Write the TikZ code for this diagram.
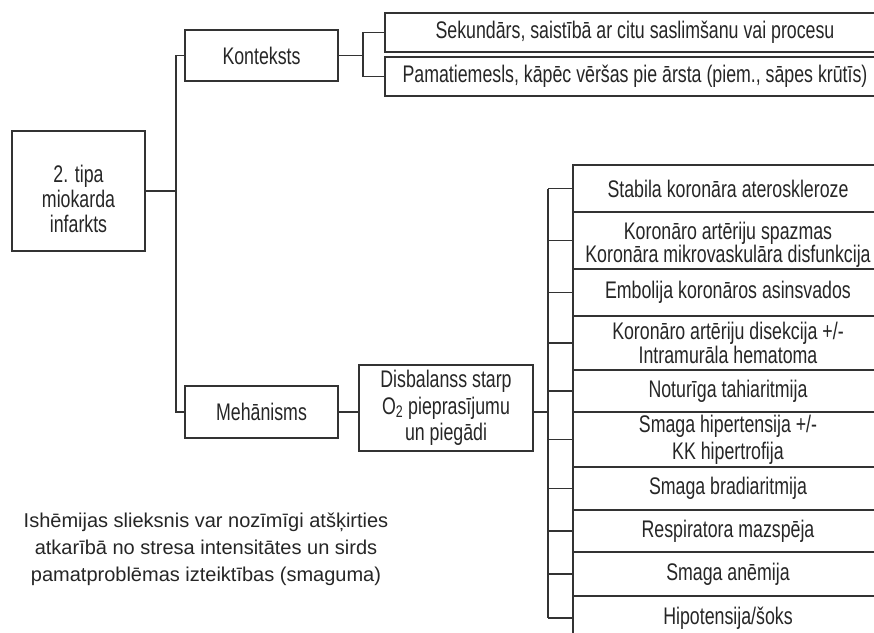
\documentclass[tikz,border=0pt]{standalone}
\usepackage{fontspec}
\setmainfont{Liberation Sans}
\newfontfamily\condfont[FakeStretch=0.74]{Liberation Sans}
\definecolor{linec}{HTML}{333333}
\definecolor{txt}{HTML}{262626}
\begin{document}
\begin{tikzpicture}[x=1pt,y=-1pt,
  box/.style={draw=linec, line width=1.25pt, inner sep=0pt, align=center, text=txt,
    font=\condfont\fontsize{24}{23}\selectfont},
  lead/.style={font=\condfont\fontsize{24}{#1}\selectfont},
  btext/.style={align=center, text=txt, inner sep=0pt, font=\condfont\fontsize{24}{#1}\selectfont},
  conn/.style={draw=linec, line width=1.25pt}]
\useasboundingbox (0,0) rectangle (874,632);
\clip (0,0) rectangle (874,632);
\fill[white] (0,0) rectangle (874,632);
% main tree
\node[box, minimum width=133pt, minimum height=120pt,
  label={[btext=25, yshift=-8pt]center:{2. tipa\\miokarda\\infarkts}}] (main) at (78.5,191) {};
\node[box, minimum width=153pt, minimum height=51pt] (kont) at (261.5,55.5) {Konteksts};
\node[box, minimum width=153pt, minimum height=52pt] (mech) at (261.5,412) {Mehānisms};
\node[box, minimum width=500pt, minimum height=39pt] (sek) at (635,32.5) {Sekundārs, saistībā ar citu saslimšanu vai procesu};
\node[box, minimum width=500pt, minimum height=39pt] (pam) at (635,76.5) {Pamatiemesls, kāpēc vēršas pie ārsta (piem., sāpes krūtīs)};
\node[box, lead=26.5, minimum width=174pt, minimum height=86pt] (dis) at (446,408) {Disbalanss starp\\O\textsubscript{2} pieprasījumu\\un piegādi};
% list
\node[box, minimum width=310pt, minimum height=47pt] (l1) at (728,188.5) {Stabila koronāra ateroskleroze};
\node[box, minimum width=310pt, minimum height=57pt,
  label={[btext=22, yshift=-4.5pt]center:{Koronāro artēriju spazmas\\Koronāra mikrovaskulāra disfunkcija}}] (l2) at (728,240.5) {};
\node[box, minimum width=310pt, minimum height=47pt] (l3) at (728,292.5) {Embolija koronāros asinsvados};
\node[box, lead=23.5, minimum width=310pt, minimum height=54pt] (l4) at (728,343) {Koronāro artēriju disekcija +/-\\Intramurāla hematoma};
\node[box, minimum width=310pt, minimum height=42pt] (l5) at (728,391) {Noturīga tahiaritmija};
\node[box, lead=27, minimum width=310pt, minimum height=55pt] (l6) at (728,439.5) {Smaga hipertensija +/-\\KK hipertrofija};
\node[box, minimum width=310pt, minimum height=43pt] (l7) at (728,488.5) {Smaga bradiaritmija};
\node[box, minimum width=310pt, minimum height=42pt] (l8) at (728,531) {Respiratora mazspēja};
\node[box, minimum width=310pt, minimum height=44pt] (l9) at (728,574) {Smaga anēmija};
\node[box, minimum width=310pt, minimum height=44pt] (l10) at (728,618) {Hipotensija/šoks};
% connectors
\coordinate (v1) at (176,0);
\coordinate (v2) at (363,0);
\coordinate (v3) at (548,0);
\draw[conn] (main.east) -- (main.east -| v1);
\draw[conn] (kont.west) -- (kont.west -| v1) -- (mech.west -| v1) -- (mech.west);
\draw[conn] (kont.east) -- (kont.east -| v2);
\draw[conn] (sek.west) -- (sek.west -| v2) -- (pam.west -| v2) -- (pam.west);
\draw[conn] (mech.east) -- (mech.east -| dis.west);
\draw[conn] (mech.east -| dis.east) -- (mech.east -| v3);
\draw[conn] (l1.west -| v3) -- (l10.west -| v3);
\foreach \i in {1,...,10} \draw[conn] (l\i.west -| v3) -- (l\i.west);
% note
\node[align=center, text=txt, inner sep=0pt, font=\fontsize{20}{27}\selectfont] (note) at (206,549) {Ishēmijas slieksnis var nozīmīgi atšķirties\\atkarībā no stresa intensitātes un sirds\\pamatproblēmas izteiktības (smaguma)};
\end{tikzpicture}
\end{document}
